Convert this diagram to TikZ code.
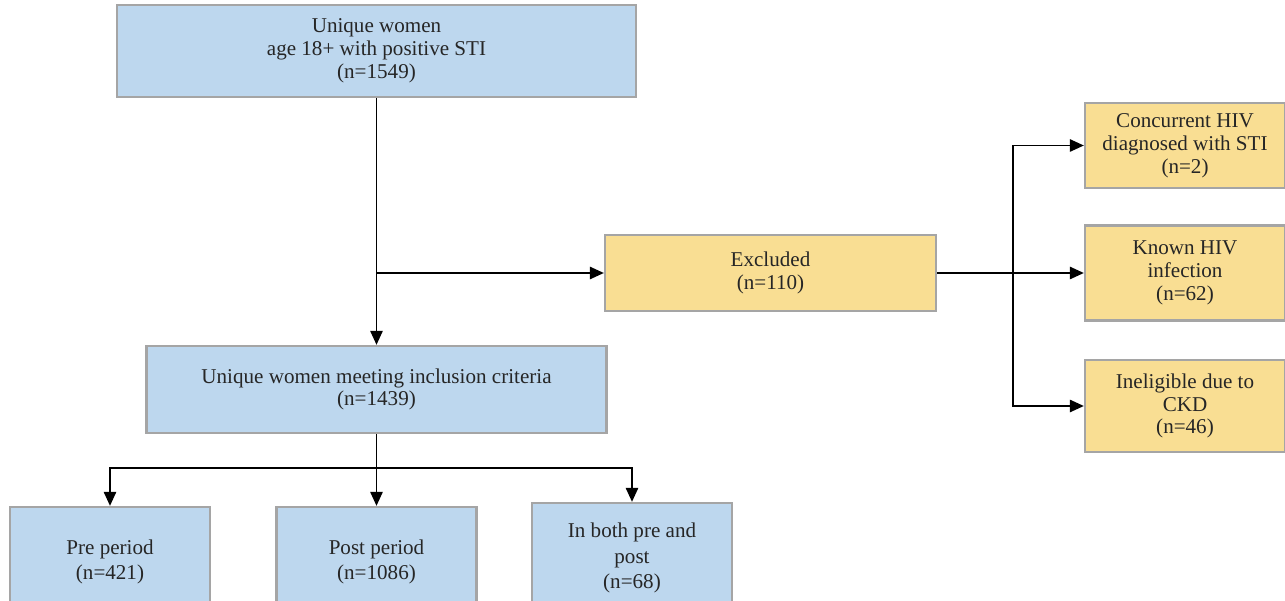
\documentclass[tikz,border=0pt]{standalone}
\usepackage{fontspec}
\setmainfont{Liberation Serif}
\usepackage{xcolor}
\usepackage{tikz}
\usetikzlibrary{arrows.meta,positioning,calc}
\definecolor{boxblue}{HTML}{BDD7EE}
\definecolor{boxgold}{HTML}{F9DE93}
\definecolor{boxedge}{HTML}{A5A5A5}

\begin{document}
\begin{tikzpicture}[x=0.02cm,y=-0.02cm,
  box/.style={draw=boxedge, line width=1.3pt, align=center, inner sep=2pt,
    font=\fontsize{12}{13}\selectfont, text=black!85},
  bluebox/.style={box, fill=boxblue},
  goldbox/.style={box, fill=boxgold},
  lowbox/.style={bluebox, minimum width=4cm, minimum height=2.2cm,
    font=\fontsize{12}{14.5}\selectfont},
  arr/.style={-{Triangle[length=8pt,width=7pt]}, line width=1.1pt}]
  \useasboundingbox (0,0) rectangle (1285,601);
  % Study population
  \node[bluebox, minimum width=10.38cm, minimum height=1.84cm] (top) at (376.5,51)
    {Unique women\\age 18+ with positive STI\\(n=1549)};
  \node[bluebox, minimum width=9.2cm, minimum height=1.74cm] (incl) at (376.5,389.5)
    {Unique women meeting inclusion criteria\\(n=1439)};
  % Exclusions
  \node[goldbox, minimum width=6.62cm, minimum height=1.52cm] (excl) at (770.5,273)
    {Excluded\\(n=110)};
  \node[goldbox, minimum width=4cm, minimum height=1.7cm] (conc) at (1185,145.5)
    {Concurrent HIV\\diagnosed with STI\\(n=2)};
  \node[goldbox, minimum width=4cm, minimum height=1.9cm] (known) at (1185,273)
    {Known HIV\\infection\\(n=62)};
  \node[goldbox, minimum width=4cm, minimum height=1.84cm] (inel) at (1185,406)
    {Ineligible due to\\CKD\\(n=46)};
  % Periods
  \node[lowbox] (pre) at (110,562) {Pre period\\(n=421)};
  \node[lowbox] (post) at (376.5,562) {Post period\\(n=1086)};
  \node[lowbox] (both) at (632,558) {In both pre and\\post\\(n=68)};
  % Connectors
  \coordinate (split) at (1013,273);
  \coordinate (fork) at (376.5,468);
  \draw[arr] (top) -- (incl);
  \draw[arr] (top.south |- excl.west) -- (excl.west);
  \draw[arr] (excl.east) -- (known.west);
  \draw[arr] (split) |- (conc.west);
  \draw[arr] (split) |- (inel.west);
  \draw[line width=1.1pt] (incl.south) -- (fork);
  \draw[arr] (fork) -| (pre.north);
  \draw[arr] (fork) -- (post.north);
  \draw[arr] (fork) -| (both.north);
\end{tikzpicture}
\end{document}
